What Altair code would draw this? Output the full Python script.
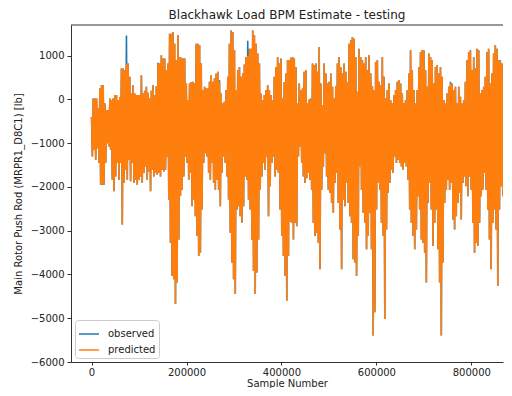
import altair as alt
import pandas as pd

# Sample numbers of the envelope bins (each bin spans 3500 samples)
bin_step = 3500

# Upper envelope of the predicted signal per bin [lb]
pred_top = [
    -400, 23, 23, 23, -205, 250, 326, 326, -91, -243,
    -243, 23, -15, 23, 99, 99, -15, 50, 705, 705,
    667, 819, 819, 515, 136, 326, 136, 100, 99, 99,
    553, 136, 200, 288, 150, 23, 200, 326, 100, 300,
    819, 819, 1008, 932, 932, 667, 819, 1501, 1501, 1539,
    1273, 894, 1463, 970, 950, 932, 932, 364, -15, 364,
    400, 402, 364, 1273, 1273, 1236, 819, 212, 288, 250,
    250, 402, 553, 402, 478, 591, 629, 402, 136, -91,
    -53, 212, 515, 1273, 1577, 1539, 1122, 212, 667, 743,
    515, 591, 800, 970, 1000, 1160, 1160, 1577, 1463, 1273,
    1046, 819, 136, -15, 100, 212, 326, 212, 100, -15,
    515, 743, 970, 819, 932, 23, 400, 591, 900, 900,
    950, 970, 932, 743, -91, 364, 212, 250, 629, 667,
    -91, 0, 23, 819, 781, 819, 629, 1198, 364, -129,
    819, 591, 364, 402, 591, 288, 23, 300, 819, 970,
    743, 591, 819, 629, 400, 1273, 1349, 1425, 1387, 970,
    174, 1160, 970, 894, 819, 970, 667, 1008, 591, 300,
    212, 857, 894, 402, 326, 970, 515, 23, 212, 364,
    -15, -91, 100, 212, 402, 440, 364, 136, -91, -15,
    212, 591, 1122, 667, 212, -91, 212, 743, 1084, 1122,
    1122, 667, 288, 1046, 970, 894, 364, 743, 781, 591,
    743, 515, -15, -91, 136, 288, 364, 364, 212, 288,
    -91, 288, 61, -91, -15, 402, 894, 1084, 1122, 667,
    970, 705, 1160, 1122, 136, 212, 288, 515, 1084, 1160,
    364, 591, 1046, 1236, 1160, 894, 894, 819, 591,
]

# Lower envelope of the predicted signal per bin [lb]
pred_bottom = [
    -1304, -1152, -1380, -1114, -1455, -1948, -1948, -1948, -1455, -1000,
    -1076, -1152, -1834, -2100, -1759, -1455, -1834, -1455, -2858, -1910,
    -1607, -1834, -1380, -1872, -1455, -1910, -1834, -1948, -1834, -1759,
    -1910, -1683, -1531, -1834, -1645, -2100, -1607, -1759, -1683, -1721,
    -1683, -1759, -1607, -1645, -1607, -1304, -2289, -3275, -4033, -4108,
    -4677, -4184, -3199, -2200, -2062, -1759, -1304, -1455, -1834, -1683,
    -2441, -2289, -2668, -3123, -3578, -3502, -2517, -1455, -1228, -1304,
    -1683, -1834, -1455, -1910, -2062, -1834, -2062, -2441, -1683, -1304,
    -1455, -1759, -2289, -3047, -3729, -4108, -4449, -2517, -2441, -2668,
    -2820, -2441, -1759, -1834, -2289, -2517, -3199, -3919, -4449, -3957,
    -3199, -2062, -1759, -1455, -1607, -1304, -2668, -1986, -1455, -1304,
    -1759, -1607, -1683, -2517, -3123, -3578, -4033, -4601, -3578, -2800,
    -2820, -3199, -2820, -2896, -1304, -1076, -1455, -1759, -1910, -1800,
    -1683, -1834, -2062, -2820, -3123, -3047, -3275, -3881, -2062, -1531,
    -1228, -1759, -2062, -2138, -2365, -2592, -1910, -1683, -2365, -2971,
    -3881, -2289, -2441, -1910, -2365, -2668, -2820, -3654, -3729, -4033,
    -3123, -1531, -2062, -2592, -2820, -3426, -3123, -2592, -3426, -5397,
    -4866, -2517, -1910, -2062, -2820, -3123, -5018, -2971, -2138, -1910,
    -1607, -1683, -1304, -1455, -1380, -1455, -1531, -1607, -1455, -1531,
    -1834, -2517, -2820, -3123, -3426, -2971, -2213, -2517, -3199, -3275,
    -3502, -4184, -2365, -1910, -2517, -3350, -2820, -2517, -3426, -4184,
    -5397, -3729, -2365, -2062, -1834, -2062, -1910, -2744, -2971, -2668,
    -2365, -2138, -2744, -1910, -1759, -1986, -2213, -1759, -2062, -2820,
    -3502, -3275, -3350, -2820, -2213, -2062, -1683, -2062, -2517, -3199,
    -3881, -2820, -2517, -2971, -4260, -2517, -1986, -2213, -2289,
]

# Observed signal: same envelope except where it pokes out above the prediction
obs_spike_bins = [21, 40, 77, 94, 216]
obs_spike_values = [1460, 840, 440, 1340, 402]

series_names = ["observed", "predicted"]
series_colors = ["#1f77b4", "#ff7f0e"]

x_domain = [-43300, 866700]
y_domain = [-6000, 1700]
x_ticks = [0, 200000, 400000, 600000, 800000]
y_ticks = [-6000, -5000, -4000, -3000, -2000, -1000, 0, 1000]

obs_top = list(pred_top)
for b, v in zip(obs_spike_bins, obs_spike_values):
    obs_top[b] = v
obs_bottom = list(pred_bottom)


def zigzag(name, top, bottom):
    rows = []
    for i, (t, b) in enumerate(zip(top, bottom)):
        rows.append({"series": name, "sample": i * bin_step, "value": t, "k": 2 * i})
        rows.append({"series": name, "sample": i * bin_step + bin_step / 2, "value": b, "k": 2 * i + 1})
    return pd.DataFrame(rows)


df_obs = zigzag("observed", obs_top, obs_bottom)
df_pred = zigzag("predicted", pred_top, pred_bottom)

color = alt.Color(
    "series:N",
    scale=alt.Scale(domain=series_names, range=series_colors),
    legend=alt.Legend(
        title=None,
        orient="bottom-left",
        offset=4,
        symbolType="stroke",
        symbolSize=400,
        symbolStrokeWidth=1.5,
        labelFontSize=10,
        labelFont="DejaVu Sans",
        labelColor="#222",
        fillColor="white",
        strokeColor="#cccccc",
        cornerRadius=3,
        padding=3,
        rowPadding=-4,
        labelOffset=8,
    ),
)

x = alt.X(
    "sample:Q",
    title="Sample Number",
    scale=alt.Scale(domain=x_domain, nice=False, zero=False),
    axis=alt.Axis(values=x_ticks, format="d", tickSize=3, labelPadding=2, titlePadding=1),
)
y = alt.Y(
    "value:Q",
    title="Main Rotor Push Rod (MRPR1_D8C1) [lb]",
    scale=alt.Scale(domain=y_domain, nice=False, zero=False),
    axis=alt.Axis(values=y_ticks, format="d", tickSize=4, labelPadding=3, titlePadding=7),
)

obs_layer = alt.Chart(df_obs).mark_line(strokeWidth=1.6, clip=True).encode(
    x=x, y=y, color=color, order="k:Q"
)
pred_layer = alt.Chart(df_pred).mark_line(strokeWidth=1.6, clip=True).encode(
    x=x, y=y, color=color, order="k:Q"
)

# top spine of the axes box
top_spine = alt.Chart(pd.DataFrame({"a": [0]})).mark_rule(color="#333", strokeWidth=1).encode(
    x=alt.datum(x_domain[0]), x2=alt.datum(x_domain[1]), y=alt.datum(y_domain[1])
)

chart = (
    alt.layer(obs_layer, pred_layer, top_spine)
    .properties(
        width=496,
        height=380,
        autosize=alt.AutoSizeParams(type="fit", contains="padding"),
        title="Blackhawk Load BPM Estimate - testing",
        padding={"left": 5, "top": 0, "right": 0, "bottom": 0},
    )
    .configure_title(font="DejaVu Sans", fontSize=12, fontWeight="normal", color="#222", offset=3)
    .configure_view(stroke=None)
    .configure_axis(
        grid=False,
        domainColor="#333",
        tickColor="#333",
        labelFont="DejaVu Sans",
        labelFontSize=10,
        labelColor="#222",
        titleFont="DejaVu Sans",
        titleFontSize=10,
        titleFontWeight="normal",
        titleColor="#222",
    )
)

chart.save("out.html", embed_options={"renderer": "svg", "actions": False})
